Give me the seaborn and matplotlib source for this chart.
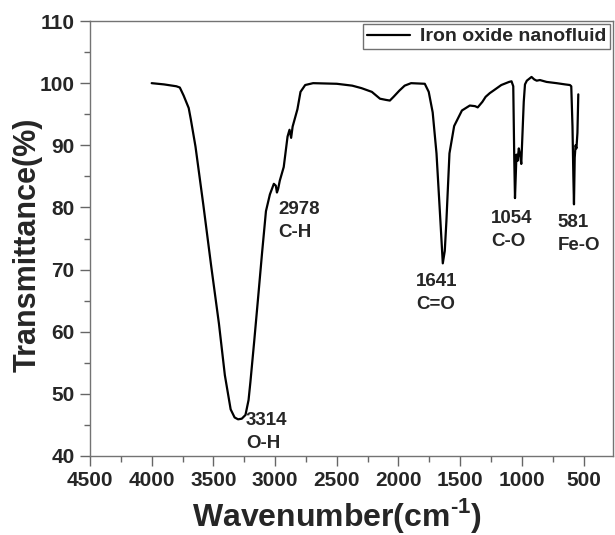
import numpy as np
import pandas as pd
import seaborn as sns
import matplotlib
matplotlib.use("Agg")
import matplotlib.pyplot as plt

# FTIR spectrum
wavenumber = [4000, 3900, 3800, 3772, 3741, 3700, 3683, 3645, 3582, 3518, 3455, 3407,
              3360, 3328, 3300, 3270, 3240, 3215, 3200, 3169, 3137, 3105, 3074, 3042,
              3010, 2994, 2985, 2975, 2962, 2930, 2899, 2883, 2870, 2858, 2819, 2794,
              2756, 2692, 2500, 2375, 2300, 2216, 2150, 2100, 2070, 2040, 1993, 1950,
              1898, 1787, 1755, 1723, 1692, 1660, 1641, 1625, 1612, 1587, 1549, 1486,
              1422, 1380, 1358, 1320, 1294, 1260, 1231, 1167, 1104, 1084, 1070, 1062,
              1056, 1050, 1044, 1035, 1025, 1015, 1005, 998, 985, 975, 960, 922, 900,
              880, 854, 800, 719, 650, 611, 600, 590, 583, 578, 572, 565, 558, 550, 543]
transmittance = [100.0, 99.8, 99.5, 99.3, 98.0, 96.0, 94.2, 89.8, 80.5, 70.6, 61.3, 53.0,
                 47.5, 46.2, 45.9, 46.0, 46.6, 49.0, 51.9, 58.5, 65.6, 72.8, 79.4, 82.1,
                 83.8, 83.5, 82.4, 83.0, 84.3, 86.5, 91.4, 92.5, 91.2, 93.0, 95.8, 98.6,
                 99.7, 100.0, 99.9, 99.6, 99.2, 98.6, 97.5, 97.3, 97.2, 97.8, 98.8, 99.6,
                 100.0, 99.9, 98.6, 95.3, 88.7, 77.7, 71.0, 73.0, 77.7, 88.7, 93.1, 95.6,
                 96.4, 96.3, 96.1, 97.0, 97.8, 98.4, 98.8, 99.7, 100.2, 100.3, 99.5, 88.0,
                 81.5, 85.0, 88.5, 87.5, 89.5, 88.5, 87.0, 90.5, 97.0, 99.8, 100.4, 101.0, 100.6,
                 100.4, 100.5, 100.2, 100.0, 99.8, 99.7, 99.5, 93.0, 85.0, 80.5, 88.0, 90.0, 89.5, 92.0, 98.2]

peak_x = [3236, 2977, 1859, 1252, 709]
peak_y = [47.1, 81.0, 69.4, 79.6, 78.9]
peak_labels = ["3314\nO-H", "2978\nC-H", "1641\nC=O", "1054\nC-O", "581\nFe-O"]

df = pd.DataFrame({"wavenumber": wavenumber, "transmittance": transmittance})

sns.set_style("ticks")
plt.rcParams["font.family"] = ["Liberation Sans", "DejaVu Sans"]
plt.rcParams["font.weight"] = "bold"
plt.rcParams["mathtext.fontset"] = "custom"
plt.rcParams["mathtext.rm"] = "Liberation Sans:bold"
plt.rcParams["mathtext.bf"] = "Liberation Sans:bold"

fig = plt.figure(figsize=(6.15, 5.35), dpi=100)
ax = fig.add_axes([0.1463, 0.1477, 0.85, 0.813])

sns.lineplot(data=df, x="wavenumber", y="transmittance", color="black", linewidth=1.6,
             estimator=None, label="Iron oxide nanofluid", ax=ax)

for x, y, t in zip(peak_x, peak_y, peak_labels):
    ax.text(x, y, t, ha="left", va="top", fontsize=13.5, fontweight="bold", linespacing=1.45)

ax.set_xlim(4500, 264)
ax.set_ylim(40, 110)
ax.set_xticks([4500, 4000, 3500, 3000, 2500, 2000, 1500, 1000, 500])
ax.set_xticks(np.arange(4250, 264, -500), minor=True)
ax.set_yticks(np.arange(40, 111, 10))
ax.set_yticks(np.arange(45, 110, 10), minor=True)
ax.tick_params(axis="both", which="major", direction="out", length=7, width=1,
               color="0.4", labelsize=15, pad=4)
ax.tick_params(axis="both", which="minor", direction="out", length=4, width=1, color="0.4")
for lab in ax.get_xticklabels() + ax.get_yticklabels():
    lab.set_fontweight("bold")
for s in ax.spines.values():
    s.set_color("0.45")
    s.set_linewidth(1)

ax.set_xlabel("Wavenumber(cm$^{\\text{-1}}$)", fontsize=23, fontweight="bold")
ax.set_ylabel("Transmittance(%)", fontsize=22, fontweight="bold")
ax.xaxis.set_label_coords(0.472, -0.092)
ax.yaxis.set_label_coords(-0.09, 0.485)

leg = ax.legend(loc="upper right", fontsize=14, frameon=True, fancybox=False,
                handlelength=2.2, handletextpad=0.5, borderpad=0.2, borderaxespad=0.15)
leg.get_frame().set_edgecolor("0.3")
leg.get_frame().set_linewidth(1)
for t in leg.get_texts():
    t.set_fontweight("bold")

fig.savefig("out.png", dpi=100)
plt.close(fig)
